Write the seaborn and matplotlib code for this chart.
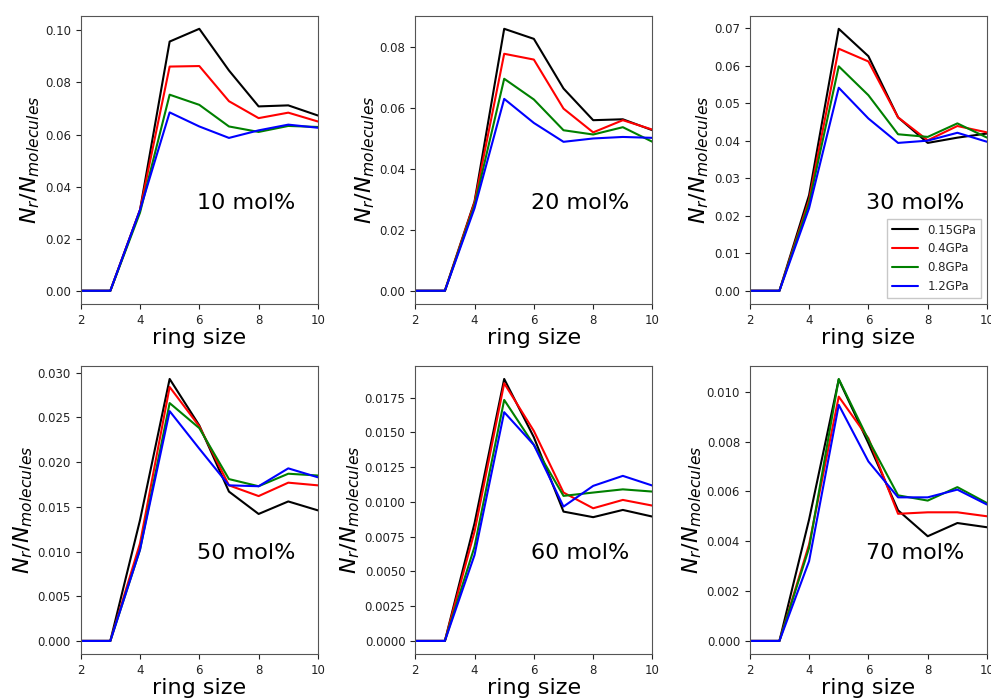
import numpy as np
import matplotlib
matplotlib.use('Agg')
import matplotlib.pyplot as plt
import seaborn as sns
import pandas as pd

ring = [2, 3, 4, 5, 6, 7, 8, 9, 10]
pressures = ['0.15GPa', '0.4GPa', '0.8GPa', '1.2GPa']
concs = ['10 mol%', '20 mol%', '30 mol%', '50 mol%', '60 mol%', '70 mol%']

c10 = {
    '0.15GPa': [0, 0, 0.0310, 0.0957, 0.1006, 0.0846, 0.0708, 0.0712, 0.0673],
    '0.4GPa': [0, 0, 0.0310, 0.0861, 0.0863, 0.0728, 0.0663, 0.0684, 0.0650],
    '0.8GPa': [0, 0, 0.0300, 0.0753, 0.0714, 0.0631, 0.0610, 0.0633, 0.0629],
    '1.2GPa': [0, 0, 0.0310, 0.0685, 0.0631, 0.0587, 0.0616, 0.0638, 0.0626],
}
c20 = {
    '0.15GPa': [0, 0, 0.0293, 0.0860, 0.0827, 0.0664, 0.0560, 0.0563, 0.0527],
    '0.4GPa': [0, 0, 0.0290, 0.0778, 0.0759, 0.0598, 0.0520, 0.0560, 0.0529],
    '0.8GPa': [0, 0, 0.0280, 0.0696, 0.0628, 0.0527, 0.0513, 0.0537, 0.0489],
    '1.2GPa': [0, 0, 0.0271, 0.0630, 0.0551, 0.0489, 0.0500, 0.0505, 0.0502],
}
c30 = {
    '0.15GPa': [0, 0, 0.0255, 0.0698, 0.0625, 0.0462, 0.0394, 0.0408, 0.0419],
    '0.4GPa': [0, 0, 0.0242, 0.0645, 0.0611, 0.0462, 0.0401, 0.0439, 0.0422],
    '0.8GPa': [0, 0, 0.0233, 0.0598, 0.0521, 0.0417, 0.0410, 0.0446, 0.0408],
    '1.2GPa': [0, 0, 0.0220, 0.0541, 0.0459, 0.0394, 0.0400, 0.0421, 0.0397],
}
c50 = {
    '0.15GPa': [0, 0, 0.0135, 0.0293, 0.0241, 0.0167, 0.0142, 0.0156, 0.0146],
    '0.4GPa': [0, 0, 0.0109, 0.0284, 0.0240, 0.0174, 0.0162, 0.0177, 0.0174],
    '0.8GPa': [0, 0, 0.0102, 0.0266, 0.0238, 0.0181, 0.0173, 0.0187, 0.0185],
    '1.2GPa': [0, 0, 0.0102, 0.0257, 0.0215, 0.0174, 0.0173, 0.0193, 0.0183],
}
c60 = {
    '0.15GPa': [0, 0, 0.00846, 0.01884, 0.01465, 0.00930, 0.00890, 0.00942, 0.00894],
    '0.4GPa': [0, 0, 0.00786, 0.01853, 0.01510, 0.01067, 0.00954, 0.01014, 0.00973],
    '0.8GPa': [0, 0, 0.00678, 0.01733, 0.01410, 0.01043, 0.01067, 0.01090, 0.01074],
    '1.2GPa': [0, 0, 0.00618, 0.01645, 0.01410, 0.00966, 0.01115, 0.01187, 0.01117],
}
c70 = {
    '0.15GPa': [0, 0, 0.00487, 0.01049, 0.00793, 0.00524, 0.00420, 0.00473, 0.00456],
    '0.4GPa': [0, 0, 0.00387, 0.00980, 0.00813, 0.00510, 0.00516, 0.00516, 0.00500],
    '0.8GPa': [0, 0, 0.00373, 0.01051, 0.00807, 0.00584, 0.00563, 0.00617, 0.00553],
    '1.2GPa': [0, 0, 0.00320, 0.00947, 0.00720, 0.00576, 0.00576, 0.00607, 0.00547],
}
panels = [c10, c20, c30, c50, c60, c70]

colors = {'0.15GPa': 'black', '0.4GPa': 'red', '0.8GPa': 'green', '1.2GPa': 'blue'}

sns.set_style('ticks')
plt.rcParams['font.family'] = ['DejaVu Sans']

fig, axes = plt.subplots(2, 3, figsize=(9.91, 6.98), dpi=100)
fig.subplots_adjust(left=0.0814, right=0.996, top=0.9775, bottom=0.063,
                    wspace=0.41, hspace=0.215)

for ax, conc, data in zip(axes.flat, concs, panels):
    rows = []
    for p in pressures:
        for r, v in zip(ring, data[p]):
            rows.append({'ring': r, 'val': v, 'P': p})
    df = pd.DataFrame(rows)
    sns.lineplot(data=df, x='ring', y='val', hue='P', palette=colors,
                 hue_order=pressures, ax=ax, linewidth=1.5,
                 legend=(conc == '30 mol%'))
    ax.set_xlim(2, 10)
    ax.set_xticks([2, 4, 6, 8, 10])
    ax.set_xlabel('ring size', fontsize=16, labelpad=1, color='black')
    ax.set_ylabel(r'$N_r/N_{molecules}$', fontsize=16, labelpad=2, color='black')
    ax.tick_params(labelsize=8.5, colors='#222222', length=3.5)
    for s in ax.spines.values():
        s.set_color('#555555')
        s.set_visible(True)
    ax.text(0.49, 0.33, conc, transform=ax.transAxes, fontsize=16, color='black')
    if conc == '30 mol%':
        ax.legend(title=None, loc='lower right', fontsize=8.5,
                  frameon=True, fancybox=False, edgecolor='#bbbbbb',
                  handlelength=2.2)

fig.savefig('out.png', dpi=100)
